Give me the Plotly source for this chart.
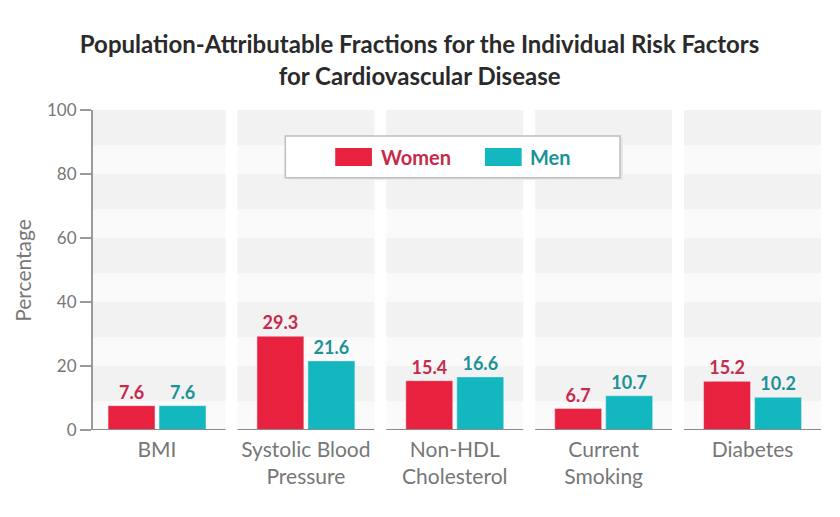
import plotly.graph_objects as go

categories = ["BMI", "Systolic Blood<br>Pressure", "Non-HDL<br>Cholesterol", "Current<br>Smoking", "Diabetes"]
women = [7.6, 29.3, 15.4, 6.7, 15.2]
men = [7.6, 21.6, 16.6, 10.7, 10.2]
y_ticks = [0, 20, 40, 60, 80, 100]

red = "#E8213F"
teal = "#12B7BF"
red_txt = "#C62A4C"
teal_txt = "#1A9398"
grey_txt = "#777777"
font = "Lato, 'Open Sans', sans-serif"

xs = list(range(len(categories)))

fig = go.Figure()

fig.add_trace(go.Bar(
    x=xs, y=women, name="Women", marker_color=red,
    text=[f"<b>{v:.1f}</b>" for v in women], textposition="outside",
    textfont=dict(color=red_txt, size=18, family=font),
    cliponaxis=False, showlegend=False,
))
fig.add_trace(go.Bar(
    x=xs, y=men, name="Men", marker_color=teal,
    text=[f"<b>{v:.1f}</b>" for v in men], textposition="outside",
    textfont=dict(color=teal_txt, size=18, family=font),
    cliponaxis=False, showlegend=False,
))

shapes = []
# panel backgrounds with horizontal bands
for i in xs:
    x0, x1 = i - 0.46, i + 0.46
    shapes.append(dict(type="rect", xref="x", yref="y", x0=x0, x1=x1, y0=0, y1=100,
                       fillcolor="#fafafa", line_width=0, layer="below"))
    for t in y_ticks[1:]:
        shapes.append(dict(type="rect", xref="x", yref="y", x0=x0, x1=x1, y0=t - 11, y1=t,
                           fillcolor="#f2f2f2", line_width=0, layer="below"))
    shapes.append(dict(type="line", xref="x", yref="y", x0=x0, x1=x1, y0=0, y1=0,
                       line=dict(color="#8a8a8a", width=2), layer="above"))

# legend box
shapes.append(dict(type="rect", xref="paper", yref="paper", x0=0.266, x1=0.722, y0=0.782, y1=0.913,
                   fillcolor="#e6e6e6", line_width=0, layer="above"))
shapes.append(dict(type="rect", xref="paper", yref="paper", x0=0.262, x1=0.718, y0=0.788, y1=0.919,
                   fillcolor="white", line=dict(color="#bdbdbd", width=1.5), layer="above"))
shapes.append(dict(type="rect", xref="paper", yref="paper", x0=0.330, x1=0.380, y0=0.825, y1=0.881,
                   fillcolor=red, line_width=0, layer="above"))
shapes.append(dict(type="rect", xref="paper", yref="paper", x0=0.534, x1=0.584, y0=0.825, y1=0.881,
                   fillcolor=teal, line_width=0, layer="above"))

annotations = [
    dict(text="<b>Women</b>", xref="paper", yref="paper", x=0.389, y=0.853, xanchor="left", yanchor="middle",
         showarrow=False, font=dict(color=red_txt, size=20, family=font)),
    dict(text="<b>Men</b>", xref="paper", yref="paper", x=0.593, y=0.853, xanchor="left", yanchor="middle",
         showarrow=False, font=dict(color=teal_txt, size=20, family=font)),
    dict(text="Percentage", xref="paper", yref="paper", x=-0.097, y=0.5, xanchor="center", yanchor="middle",
         textangle=-90, showarrow=False, font=dict(color=grey_txt, size=21, family=font)),
]

fig.update_layout(
    width=840, height=517,
    paper_bgcolor="white", plot_bgcolor="white",
    margin=dict(l=85, r=21, t=102, b=95, autoexpand=False),
    barmode="group", bargap=0.315, bargroupgap=0.08,
    title=dict(
        text="<b>Population-Attributable Fractions for the Individual Risk Factors<br>for Cardiovascular Disease</b>",
        x=0.49, xanchor="center", y=0.912, yanchor="middle",
        font=dict(size=24, color="#2a2a2a", family=font),
    ),
    font=dict(family=font, color=grey_txt),
    shapes=shapes,
    annotations=annotations,
    xaxis=dict(
        range=[-0.43, 4.5], tickvals=xs, ticktext=categories, automargin=False,
        showgrid=False, zeroline=False, showline=False, ticks="",
        tickfont=dict(size=21, color=grey_txt), ticklabelstandoff=5,
    ),
    yaxis=dict(
        range=[0, 100], tickvals=y_ticks, showgrid=False, zeroline=False, automargin=False,
        showline=True, linecolor="#9a9a9a", linewidth=2,
        ticks="outside", ticklen=11, tickcolor="#9a9a9a", tickwidth=1.5,
        tickfont=dict(size=17, color=grey_txt),
    ),
)

fig.write_html("out.html")
